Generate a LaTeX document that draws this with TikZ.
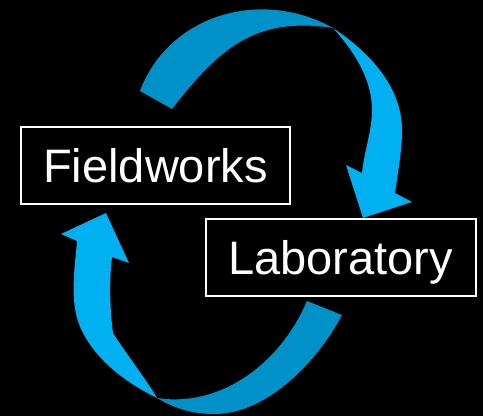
\documentclass[tikz,border=0pt]{standalone}
\usepackage{fontspec}
\setmainfont{Liberation Sans}
\definecolor{ribbonback}{HTML}{0091C8}
\definecolor{ribbonfront}{HTML}{00B0F0}
\newcommand{\stagefont}{\fontsize{47}{52}\selectfont}

\begin{document}
\begin{tikzpicture}[x=1pt,y=-1pt,
	stage/.style={draw=white, line width=2pt, text=white, inner sep=0pt,
		minimum width=269.5pt, minimum height=77pt,
		text height=34pt, text depth=0pt, font=\stagefont}]
	\fill[black] (0,0) rectangle (483,416);
	\useasboundingbox (0,0) rectangle (483,416);

	\node[stage] (field) at (155.5,165) {Fieldworks};
	\node[stage] (lab) at (340.75,257.75) {Laboratory};

	\coordinate (topTwist) at (333,28);
	\coordinate (topTip) at (363,218);
	\coordinate (lowTwist) at (157,398);
	\coordinate (lowTip) at (106,213);

	% upper ribbon, back side then front side with head
	\fill[ribbonback] (140,91) .. controls (169,14) and (262,-12) .. (topTwist)
		.. controls (254,16) and (218.5,49.75) .. (172,109) -- cycle;
	\fill[ribbonfront] (topTwist) .. controls (369,52) and (402,86.5) .. (402,130)
		.. controls (402,151) and (398,172) .. (395,193)
		-- (412,202) -- (topTip) -- (346,165) -- (362,173)
		.. controls (364,152) and (372,131) .. (372,110)
		.. controls (372,79) and (354,51) .. (topTwist) -- cycle;

	% lower ribbon
	\fill[ribbonfront] (lowTwist) .. controls (127,383) and (99,363) .. (83,333)
		.. controls (68.4,305.7) and (74.5,272) .. (77,241)
		-- (61,234) -- (lowTip) -- (129,263) -- (112,257)
		.. controls (109,282) and (110,310) .. (113,333)
		.. controls (125,352) and (148,382) .. (lowTwist) -- cycle;
	\fill[ribbonback] (lowTwist) .. controls (177,410) and (195,414) .. (215,414)
		.. controls (267,414) and (318,361) .. (342,315)
		-- (307,301)
		.. controls (281,362) and (222,408) .. (lowTwist) -- cycle;
\end{tikzpicture}
\end{document}
